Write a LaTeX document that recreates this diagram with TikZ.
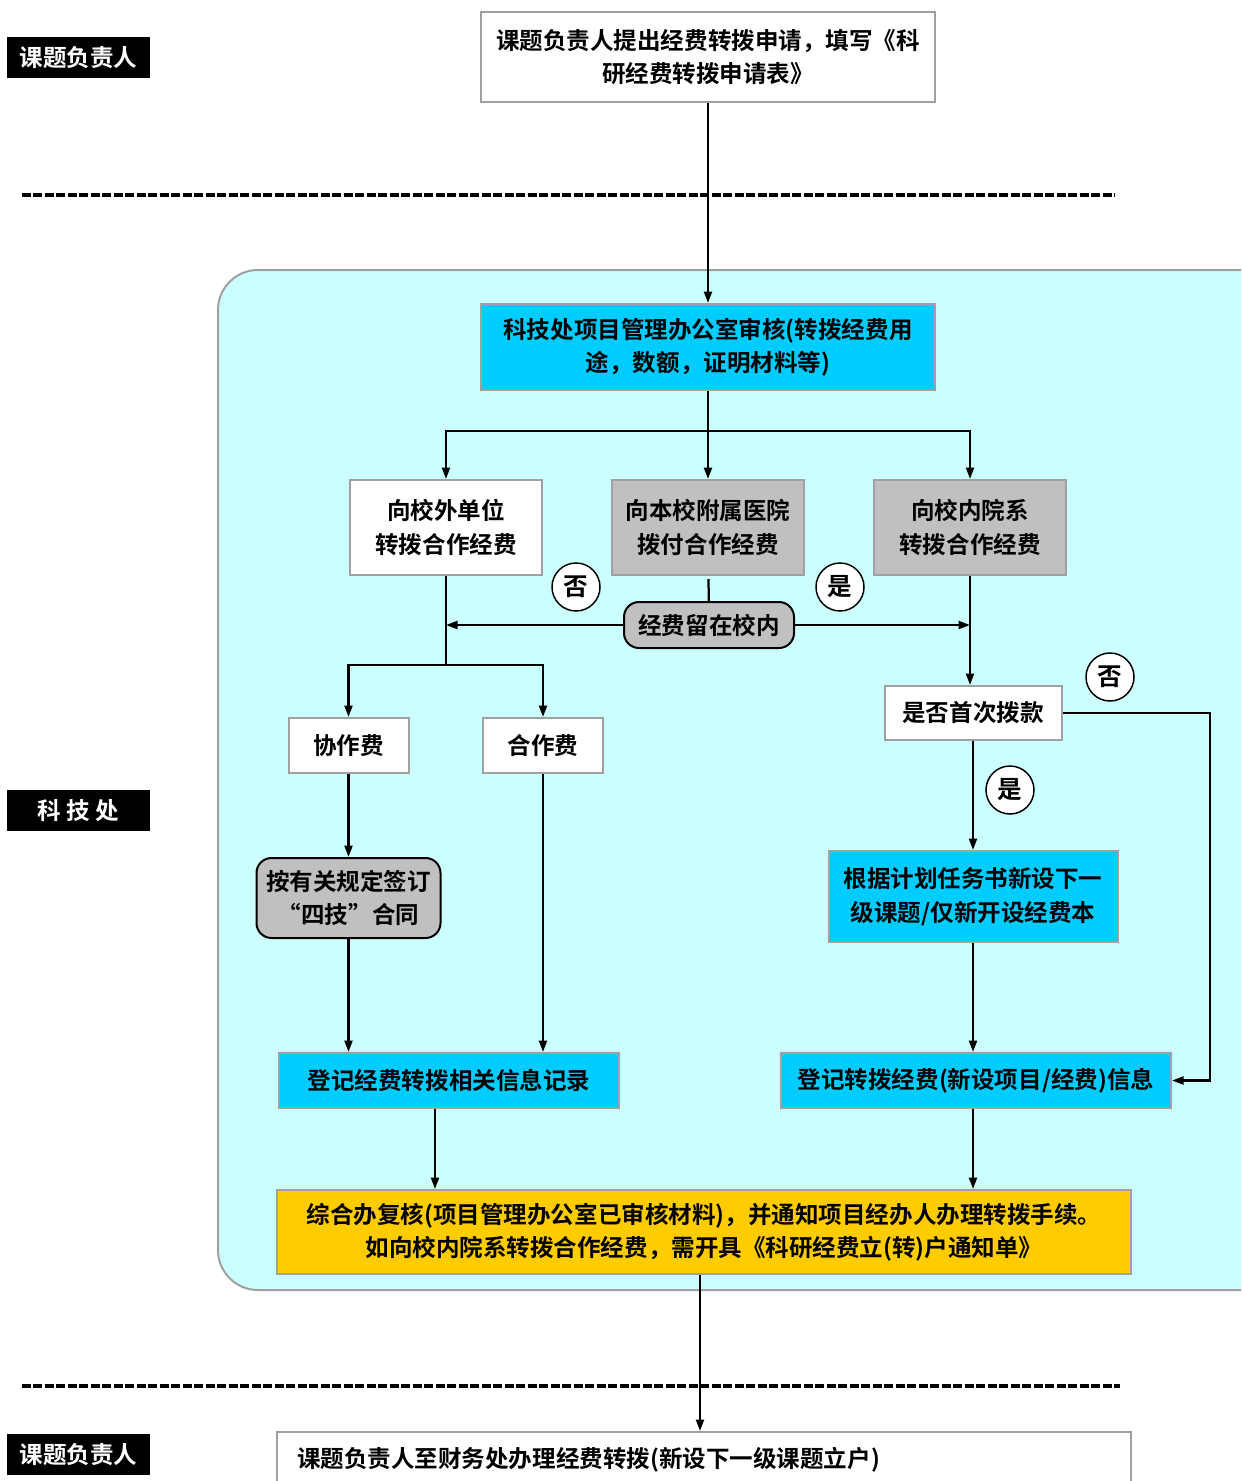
\documentclass[tikz,border=0pt]{standalone}
\usepackage{fontspec}
\setmainfont{Noto Sans CJK SC}[BoldFont={Noto Sans CJK SC Bold}]
\usepackage{xcolor}
\usetikzlibrary{arrows.meta}
\definecolor{paleblue}{HTML}{CCFFFF}
\definecolor{skyblue}{HTML}{00CCFF}
\definecolor{boxgray}{HTML}{C0C0C0}
\definecolor{gold}{HTML}{FFCC00}
\definecolor{edgegray}{HTML}{A0A0A0}

\begin{document}
\begin{tikzpicture}[
    x=0.02cm, y=-0.02cm,
    font=\fontsize{13.4}{19}\selectfont\bfseries,
    box/.style 2 args={draw=edgegray, line width=0.04cm, minimum width=#1*0.02cm,
        minimum height=#2*0.02cm, align=center, inner sep=0pt},
    roundbox/.style 2 args={box={#1}{#2}, draw=black, fill=boxgray, rounded corners=0.3cm},
    tag/.style={fill=black, text=white, minimum width=2.86cm, minimum height=0.82cm, inner sep=0pt},
    answer/.style={circle, draw=black, line width=0.03cm, fill=white, minimum size=0.96cm,
        inner sep=0pt, font=\fontsize{14}{16}\selectfont\bfseries},
    link/.style={line width=0.045cm},
    arr/.style={link, -{Triangle[length=0.23cm, width=0.16cm]}},
    sepline/.style={line width=0.08cm, dash pattern=on 0.18cm off 0.05cm}
]
\useasboundingbox (0,0) rectangle (1241,1481);
\clip (0,0) rectangle (1241,1481);
\fill[white] (0,0) rectangle (1241,1481);

% office area
\draw[fill=paleblue, draw=edgegray, line width=0.04cm, rounded corners=0.8cm] (218,270) rectangle (1300,1290);

% separators
\draw[sepline] (22,195) -- (1115,195);
\draw[sepline] (22,1386) -- (1120,1386);

% roles
\node[tag] (roleA) at (78.5,57.5) {课题负责人};
\node[tag] (roleB) at (78.5,810.5) {科\ 技\ 处};
\node[tag] (roleC) at (78.5,1454.5) {课题负责人};

% boxes
\node[box={454}{90}, fill=white] (apply) at (708,57) {课题负责人提出经费转拨申请，填写《科\\研经费转拨申请表》};
\node[box={454}{86}, fill=skyblue] (audit) at (708,347) {科技处项目管理办公室审核(转拨经费用\\途，数额，证明材料等)};
\node[box={192}{95}, fill=white] (outside) at (446,527.5) {向校外单位\\转拨合作经费};
\node[box={192}{95}, fill=boxgray] (hospital) at (708,527.5) {向本校附属医院\\拨付合作经费};
\node[box={192}{95}, fill=boxgray] (inner) at (970,527.5) {向校内院系\\转拨合作经费};
\node[roundbox={170}{46}] (stay) at (709,625) {经费留在校内};
\node[box={120}{55}, fill=white] (xiezuo) at (348.5,745.5) {协作费};
\node[box={120}{55}, fill=white] (hezuo) at (543,745.5) {合作费};
\node[roundbox={184}{80}] (contract) at (348.5,898) {按有关规定签订\\“四技”合同};
\node[box={340}{55}, fill=skyblue] (recordA) at (449,1080.5) {登记经费转拨相关信息记录};
\node[box={177}{54}, fill=white] (first) at (973,713) {是否首次拨款};
\node[box={289}{91}, fill=skyblue] (plan) at (973,896.5) {根据计划任务书新设下一\\级课题/仅新开设经费本};
\node[box={390}{55}, fill=skyblue] (recordB) at (976,1080.5) {登记转拨经费(新设项目/经费)信息};
\node[box={854}{84}, fill=gold] (review) at (704,1232) {综合办复核(项目管理办公室已审核材料)，并通知项目经办人办理转拨手续。\\如向校内院系转拨合作经费，需开具《科研经费立(转)户通知单》};
\node[box={854}{56}, fill=white, align=left, text width=16.28cm] (finance) at (704,1460) {课题负责人至财务处办理经费转拨(新设下一级课题立户)};

% yes / no marks
\node[answer] (noA) at (576,587) {否};
\node[answer] (yesA) at (840,587) {是};
\node[answer] (noB) at (1110,677) {否};
\node[answer] (yesB) at (1010,790) {是};

% junctions
\coordinate (split) at (708,431);
\coordinate (splitB) at (446,665);
\coordinate (turn) at (1210,713);

% connectors
\draw[arr] (apply) -- (audit);
\draw[link] (audit) -- (split);
\draw[arr] (split) -| (outside.north);
\draw[arr] (split) -- (hospital);
\draw[arr] (split) -| (inner.north);
\draw[link, shorten <=0.06cm] (hospital) -- (stay);
\draw[arr] (stay.west) -- (stay.west -| outside.south);
\draw[arr] (stay.east) -- (stay.east -| inner.south);
\draw[link] (outside) -- (splitB);
\draw[arr] (splitB) -| (xiezuo.north);
\draw[arr] (splitB) -| (hezuo.north);
\draw[arr] (xiezuo) -- (contract);
\draw[arr] (contract.south) -- (contract.south |- recordA.north);
\draw[arr] (hezuo.south) -- (hezuo.south |- recordA.north);
\draw[arr] (inner.south) -- (inner.south |- first.north);
\draw[arr] (first) -- (plan);
\draw[arr] (plan.south) -- (plan.south |- recordB.north);
\draw[arr] (first.east) -- (turn) |- (recordB.east);
\draw[arr] ([xshift=-0.28cm]recordA.south) -- ([xshift=-0.28cm]recordA.south |- review.north);
\draw[arr] (recordB.south -| plan.south) -- (plan.south |- review.north);
\draw[arr] ([xshift=-0.08cm]review.south) -- ([xshift=-0.08cm]review.south |- finance.north);
\end{tikzpicture}
\end{document}
